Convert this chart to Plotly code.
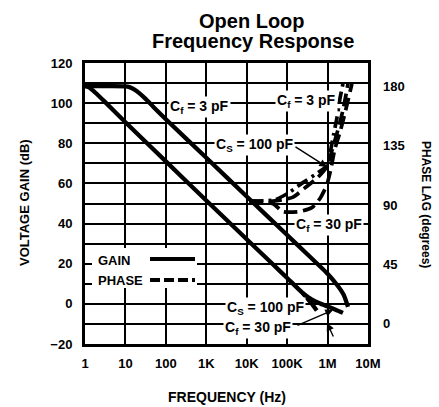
import plotly.graph_objects as go

# ---------------- data ----------------
x_tickvals = [1, 10, 100, 1e3, 1e4, 1e5, 1e6, 1e7]
x_ticktext = ["1", "10", "100", "1K", "10K", "100K", "1M", "10M"]
gain_ticks = [-20, 0, 20, 40, 60, 80, 100, 120]
phase_ticks = [0, 45, 90, 135, 180]

# Gain, Cf = 3 pF
gain_cf3_freq = [1, 4, 10, 12.6, 16, 22, 32, 50, 100, 1e3, 1e4, 1e5, 3.16e5, 1e6, 1.78e6, 2.5e6, 3.2e6]
gain_cf3_db = [108.5, 108.5, 108.4, 108, 107, 105, 102, 98, 92, 72.8, 53.5, 34.3, 24.7, 15, 9, 4.5, -1.5]

# Gain, common low-frequency part + Cf = 30 pF branch
gain_cf30_freq = [1, 1.26, 1.78, 3.16, 10, 100, 1e3, 1e4, 4e4, 1e5, 2.4e5, 4e5, 6.3e5, 1e6, 1.58e6, 2.4e6]
gain_cf30_db = [108.5, 107.8, 105.3, 100.5, 90.5, 71, 51.5, 32.2, 20.6, 12.9, 5.5, 2.3, 0.3, -1.3, -2.9, -4.5]

# Gain, Cs = 100 pF branch
gain_cs100_freq = [2.4e5, 3.16e5, 4e5, 5.4e5]
gain_cs100_db = [5.5, 2.8, 0.3, -3.3]

# Phase lag curves (degrees)
phase_cf30_freq = [1.15e4, 4.5e4, 7.8e4, 2.0e5, 4.1e5, 6.5e5, 9.5e5, 1.2e6, 1.5e6, 2.1e6, 2.8e6, 4.0e6]
phase_cf30_deg = [93, 91, 85, 85, 88, 95, 105, 117, 132, 147, 162, 182]

phase_cf3_freq = [1.2e4, 4.5e4, 1.4e5, 2.75e5, 5.75e5, 9.5e5, 1.3e6, 1.8e6, 2.4e6, 3.2e6]
phase_cf3_deg = [93, 93, 96, 103, 111, 119, 132, 147, 162, 182]

phase_cs100_freq = [1.3e4, 5.0e4, 1.05e5, 2.45e5, 5.4e5, 1.02e6, 1.2e6, 1.4e6, 1.7e6, 2.0e6, 2.4e6]
phase_cs100_deg = [93, 94, 99, 107, 114, 120.5, 132, 143, 156, 170, 182]

# ---------------- figure ----------------
FONT = "Liberation Sans, Arial, Helvetica, sans-serif"
fig = go.Figure()

gl = dict(color="black", width=4.3)
fig.add_trace(go.Scatter(x=gain_cf3_freq, y=gain_cf3_db, mode="lines", line=dict(gl, shape="spline", smoothing=0.6), showlegend=False))
fig.add_trace(go.Scatter(x=gain_cf30_freq, y=gain_cf30_db, mode="lines", line=dict(gl, shape="spline", smoothing=0.6), showlegend=False))
fig.add_trace(go.Scatter(x=gain_cs100_freq, y=gain_cs100_db, mode="lines", line=gl, showlegend=False))

fig.add_trace(go.Scatter(x=phase_cf30_freq, y=phase_cf30_deg, yaxis="y2", mode="lines",
                         line=dict(color="black", width=3.7, dash="13px,6px", shape="spline", smoothing=0.6), showlegend=False))
fig.add_trace(go.Scatter(x=phase_cf3_freq, y=phase_cf3_deg, yaxis="y2", mode="lines",
                         line=dict(color="black", width=3.7, dash="13px,6px", shape="spline", smoothing=0.6), showlegend=False))
fig.add_trace(go.Scatter(x=phase_cs100_freq, y=phase_cs100_deg, yaxis="y2", mode="lines",
                         line=dict(color="black", width=3.7, dash="12px,5px,3px,5px", shape="spline", smoothing=0.6), showlegend=False))

tickfont = dict(family=FONT, size=13, color="black", weight="bold")

fig.update_layout(
    width=439, height=407,
    margin=dict(l=85, r=71, t=63, b=63),
    paper_bgcolor="white", plot_bgcolor="white",
    font=dict(family=FONT, color="black"),
    xaxis=dict(type="log", range=[0, 7], tickvals=x_tickvals, ticktext=x_ticktext,
               showgrid=True, gridcolor="black", gridwidth=1.8,
               showline=True, mirror=True, linecolor="black", linewidth=3,
               ticks="", tickfont=tickfont, ticklabelstandoff=5, zeroline=False),
    yaxis=dict(range=[-20, 120], tickvals=gain_ticks,
               showgrid=True, gridcolor="black", gridwidth=1.8,
               minor=dict(dtick=10, tick0=0, showgrid=True, gridcolor="black", gridwidth=1.8, ticks=""),
               showline=True, mirror=True, linecolor="black", linewidth=3,
               ticks="", tickfont=tickfont, ticklabelstandoff=7, zeroline=False),
    yaxis2=dict(overlaying="y", side="right", range=[-15.6, 197.9], tickvals=phase_ticks,
                showgrid=False, zeroline=False, showline=False, ticks="",
                tickfont=tickfont, ticklabelstandoff=14),
)

def px2paper(px, py):
    return (px - 85) / 283.0, (344 - py) / 281.0

annotations = []

def label(text, px, py, size=14, bg="white", angle=0):
    x, y = px2paper(px, py)
    annotations.append(dict(text=text, x=x, y=y, xref="paper", yref="paper",
                            xanchor="center", yanchor="middle", showarrow=False,
                            bgcolor=bg, borderpad=1, textangle=angle,
                            font=dict(family=FONT, size=size, color="black", weight="bold")))

# title
label("Open Loop", 252, 21, size=20, bg="rgba(0,0,0,0)")
label("Frequency Response", 253, 41, size=20, bg="rgba(0,0,0,0)")
# axis titles
label("VOLTAGE GAIN (dB)", 24, 203, size=13, bg="rgba(0,0,0,0)", angle=-90)
label("PHASE LAG (degrees)", 426, 204, size=12, bg="rgba(0,0,0,0)", angle=90)
label("FREQUENCY (Hz)", 227, 397, size=14, bg="rgba(0,0,0,0)")

# curve labels
label("C<sub>f</sub> = 3 pF", 199, 107)
label("C<sub>f</sub> = 3 pF", 306, 101)
label("C<sub>S</sub> = 100 pF", 254, 145)
label("C<sub>f</sub> = 30 pF", 329, 225)
label("C<sub>S</sub> = 100 pF", 265, 308)
label("C<sub>f</sub> = 30 pF", 258, 328)

def arrow(hx, hy, tx, ty):
    x, y = px2paper(hx, hy)
    annotations.append(dict(text="", x=x, y=y, xref="paper", yref="paper",
                            ax=tx - hx, ay=ty - hy, showarrow=True,
                            arrowhead=2, arrowsize=1.1, arrowwidth=1.4, arrowcolor="black"))

arrow(327, 167, 294, 146)
arrow(333, 310, 296, 326)
arrow(327, 323, 334, 338)

# legend texts
for txt, py in [("GAIN", 260), ("PHASE", 280)]:
    x, y = px2paper(96, py)
    annotations.append(dict(text=txt, x=x, y=y, xref="paper", yref="paper",
                            xanchor="left", yanchor="middle", showarrow=False,
                            font=dict(family=FONT, size=13, color="black", weight="bold")))

fig.update_layout(annotations=annotations)

shapes = []
x0, y0 = px2paper(92, 288)
x1, y1 = px2paper(197, 248)
shapes.append(dict(type="rect", xref="paper", yref="paper", x0=x0, y0=y0, x1=x1, y1=y1,
                   fillcolor="white", line=dict(width=0), layer="above"))
lx0, ly = px2paper(150, 259)
lx1, _ = px2paper(195, 259)
shapes.append(dict(type="line", xref="paper", yref="paper", x0=lx0, x1=lx1, y0=ly, y1=ly,
                   line=dict(color="black", width=4), layer="above"))
lx0, ly = px2paper(150, 280)
lx1, _ = px2paper(195, 280)
shapes.append(dict(type="line", xref="paper", yref="paper", x0=lx0, x1=lx1, y0=ly, y1=ly,
                   line=dict(color="black", width=4, dash="10px,4px"), layer="above"))
fig.update_layout(shapes=shapes)

fig.write_html("out.html", config={"displayModeBar": False},
               post_script="document.body.style.margin='0px';")
